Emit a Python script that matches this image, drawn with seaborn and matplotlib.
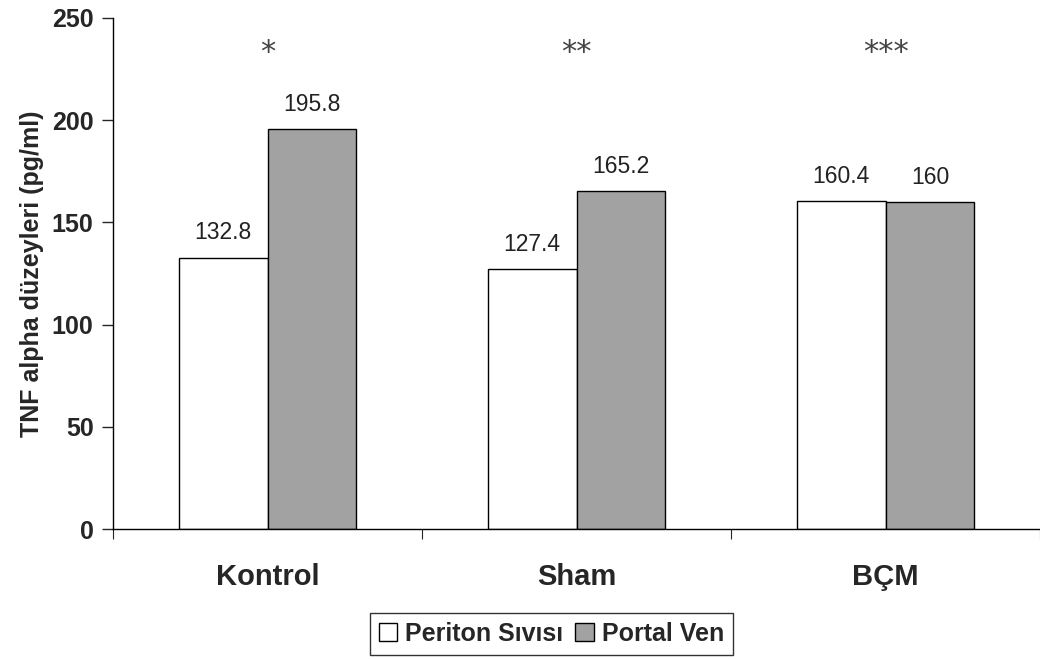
import pandas as pd
import matplotlib.pyplot as plt
import seaborn as sns

# veriler
groups = ["Kontrol", "Sham", "BÇM"]
periton = [132.8, 127.4, 160.4]
portal = [195.8, 165.2, 160.0]
stars = ["*", "**", "***"]
series_names = ["Periton Sıvısı", "Portal Ven"]

df = pd.DataFrame({
    "grup": groups * 2,
    "seri": [series_names[0]] * 3 + [series_names[1]] * 3,
    "deger": periton + portal,
})

sns.set_style("white")
plt.rcParams["font.family"] = ["Liberation Sans", "DejaVu Sans"]

fig = plt.figure(figsize=(10.4, 6.59), dpi=100)
ax = fig.add_axes([0.1087, 0.197, 0.8913, 0.776])

sns.barplot(
    data=df, x="grup", y="deger", hue="seri",
    palette=["white", "#a2a2a2"], width=0.575, gap=0,
    edgecolor="black", linewidth=1.0, ax=ax, legend=True,
)

# değer etiketleri
for cont in ax.containers:
    for bar in cont:
        h = bar.get_height()
        ax.text(bar.get_x() + bar.get_width() / 2, h + 12, f"{h:g}",
                ha="center", va="center", fontsize=16.5, color="#222222")

# yıldızlar
for i, s in enumerate(stars):
    ax.text(i, 233, s, ha="center", va="center", fontsize=22, color="#444444",
            family="DejaVu Sans")

ax.set_ylim(0, 250)
ax.set_xlim(-0.5, 2.5)
ax.set_yticks(range(0, 251, 50))
ax.set_yticklabels([str(v) for v in range(0, 251, 50)], fontsize=18, fontweight="bold")
ax.tick_params(axis="y", direction="out", length=8, width=1, left=True, pad=6)
ax.tick_params(axis="x", which="major", length=0, pad=24)
ax.set_xticks([-0.5, 0.5, 1.5, 2.5], minor=True)
ax.tick_params(axis="x", which="minor", direction="out", length=7, width=0.8, bottom=True)
for lab in ax.get_xticklabels():
    lab.set_fontsize(21)
    lab.set_fontweight("bold")

ax.set_xlabel("")
ax.set_ylabel("TNF alpha düzeyleri (pg/ml)", fontsize=18, fontweight="bold", labelpad=6)

sns.despine(ax=ax, top=True, right=True)
for sp in ["left", "bottom"]:
    ax.spines[sp].set_color("black")
    ax.spines[sp].set_linewidth(1.0)

leg = ax.legend(
    loc="center", ncol=2, frameon=True, fancybox=False, edgecolor="black",
    prop={"size": 18, "weight": "bold"}, handlelength=0.75, handleheight=0.75,
    handletextpad=0.3, columnspacing=0.5, borderpad=0.35,
)
leg.get_frame().set_linewidth(1.0)
leg.set_bbox_to_anchor((0.53, 0.038), transform=fig.transFigure)

fig.savefig("out.png", dpi=100)
